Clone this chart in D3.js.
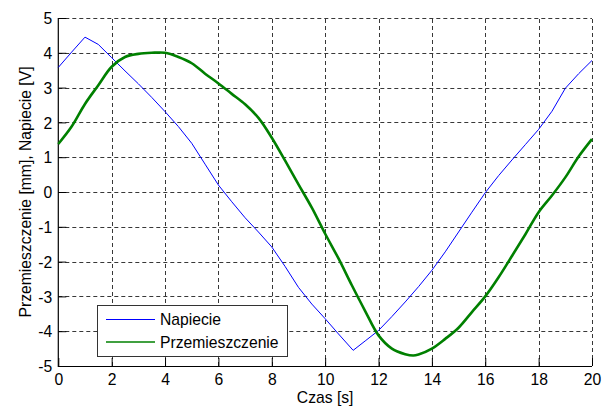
<!DOCTYPE html>
<html>
<head>
<meta charset="utf-8">
<script src="https://cdn.jsdelivr.net/npm/d3@7"></script>
<style>
  html, body { margin: 0; padding: 0; background: #fff; }
  svg { display: block; }
  text { font-family: "Liberation Sans", Arial, sans-serif; fill: #000; }
</style>
</head>
<body>
<svg id="chart" width="612" height="408"></svg>
<script>
// Time samples [s] and measured series
const timeNapiecie = [0, 0.5, 1, 1.5, 2, 2.5, 3, 3.5, 4, 4.5, 5, 5.5, 6, 6.5, 7, 7.5, 8, 8.5, 9, 9.5, 10, 10.5, 11.05,
  11.5, 12, 12.5, 13, 13.5, 14, 14.5, 15, 15.5, 16, 16.5, 17, 17.5, 18, 18.5, 19, 19.5, 20];
const napiecie = [3.58, 4.02, 4.45, 4.24, 3.86, 3.48, 3.11, 2.72, 2.31, 1.88, 1.40, 0.80, 0.20, -0.28, -0.74, -1.15, -1.58, -2.14, -2.74, -3.22, -3.64, -4.08, -4.55,
  -4.28, -3.98, -3.58, -3.16, -2.72, -2.25, -1.72, -1.15, -0.58, -0.02, 0.47, 0.92, 1.36, 1.80, 2.32, 2.98, 3.40, 3.78];

const timePrzem = [0, 0.5, 1, 1.5, 2, 2.5, 3, 3.5, 4, 4.5, 5, 5.5, 6, 6.5, 7, 7.5, 8, 8.5, 9, 9.5, 10, 10.5, 11, 11.5,
  12, 12.5, 13, 13.3, 13.5, 14, 14.5, 15, 15.5, 16, 16.5, 17, 17.5, 18, 18.5, 19, 19.5, 20];
const przemieszczenie = [1.38, 1.88, 2.53, 3.07, 3.60, 3.88, 3.97, 4.00, 4.00, 3.88, 3.70, 3.40, 3.12, 2.82, 2.52, 2.13, 1.56, 0.90, 0.22, -0.45, -1.20, -1.91, -2.68, -3.42,
  -4.12, -4.50, -4.66, -4.70, -4.67, -4.50, -4.22, -3.90, -3.45, -3.00, -2.45, -1.84, -1.22, -0.58, -0.10, 0.42, 1.02, 1.52];

const xTicks = [0, 2, 4, 6, 8, 10, 12, 14, 16, 18, 20];
const yTicks = [-5, -4, -3, -2, -1, 0, 1, 2, 3, 4, 5];
const seriesNames = ["Napiecie", "Przemieszczenie"];
const seriesColors = ["#0000ff", "#008000"];

const svg = d3.select("#chart");
const plotLeft = 58.3, plotRight = 592, plotTop = 18, plotBottom = 366;
const fontSize = "15.7px";

const x = d3.scaleLinear().domain([0, 20]).range([plotLeft, plotRight]);
const y = d3.scaleLinear().domain([-5, 5]).range([plotBottom, plotTop]);

svg.append("rect").attr("width", 612).attr("height", 408).attr("fill", "#fff");

// dashed grid
const grid = svg.append("g").attr("stroke", "#383838").attr("stroke-width", 1)
  .attr("stroke-dasharray", "4,3").attr("fill", "none");
grid.selectAll("line.v").data(xTicks.slice(1)).join("line")
  .attr("x1", d => Math.round(x(d)) + 0.5).attr("x2", d => Math.round(x(d)) + 0.5)
  .attr("y1", plotBottom).attr("y2", plotTop);
grid.selectAll("line.h").data(yTicks.slice(1)).join("line")
  .attr("y1", d => Math.round(y(d)) + 0.5).attr("y2", d => Math.round(y(d)) + 0.5)
  .attr("x1", plotLeft).attr("x2", plotRight);

// axes with inward ticks; labels use a plain hyphen for negatives
const tickText = d => String(d);
const xAxis = d3.axisBottom(x).tickValues(xTicks).tickSize(-8).tickPadding(0).tickFormat(tickText);
const yAxis = d3.axisLeft(y).tickValues(yTicks).tickSize(-8).tickPadding(0).tickFormat(tickText);

const gx = svg.append("g").attr("transform", `translate(0,${plotBottom})`).call(xAxis);
gx.select(".domain").remove();
gx.selectAll(".tick line").attr("stroke", "#000");
gx.selectAll(".tick text").attr("y", 19).attr("dy", null)
  .style("font-size", fontSize).attr("font-family", null);

const gy = svg.append("g").attr("transform", `translate(${plotLeft},0)`).call(yAxis);
gy.select(".domain").remove();
gy.selectAll(".tick line").attr("stroke", "#000");
gy.selectAll(".tick text").attr("x", -6).attr("dy", "0.36em")
  .style("font-size", fontSize).attr("font-family", null);

// axis lines
svg.append("line").attr("x1", plotLeft).attr("x2", plotRight).attr("y1", plotBottom + 0.5).attr("y2", plotBottom + 0.5)
  .attr("stroke", "#000").attr("stroke-width", 1.2);
svg.append("line").attr("x1", plotLeft).attr("x2", plotLeft).attr("y1", plotTop).attr("y2", plotBottom + 1)
  .attr("stroke", "#000").attr("stroke-width", 1.2);

// series
const lineBlue = d3.line().x((d, i) => x(timeNapiecie[i])).y(d => y(d));
const lineGreen = d3.line().x((d, i) => x(timePrzem[i])).y(d => y(d)).curve(d3.curveCatmullRom);

svg.append("path").datum(napiecie).attr("d", lineBlue)
  .attr("fill", "none").attr("stroke", seriesColors[0]).attr("stroke-width", 1);
svg.append("path").datum(przemieszczenie).attr("d", lineGreen)
  .attr("fill", "none").attr("stroke", seriesColors[1]).attr("stroke-width", 2.6);

// axis labels
svg.append("text").attr("x", (plotLeft + plotRight) / 2).attr("y", 403).attr("text-anchor", "middle")
  .style("font-size", fontSize).text("Czas [s]");
svg.append("text").attr("transform", `translate(31,${(plotTop + plotBottom) / 2}) rotate(-90)`)
  .attr("text-anchor", "middle").style("font-size", fontSize)
  .text("Przemieszczenie [mm], Napiecie [V]");

// legend
const legend = svg.append("g");
legend.append("rect").attr("x", 97.5).attr("y", 305.5).attr("width", 190).attr("height", 51)
  .attr("fill", "#fff").attr("stroke", "#333").attr("stroke-width", 1);
seriesNames.forEach((name, i) => {
  const ly = 319.5 + i * 22.5;
  legend.append("line").attr("x1", 106).attr("x2", 155).attr("y1", ly).attr("y2", ly)
    .attr("stroke", seriesColors[i]).attr("stroke-width", i === 1 ? 1.5 : 1);
  legend.append("text").attr("x", 160).attr("y", ly + 5.8).style("font-size", fontSize).text(name);
});
</script>
</body>
</html>
